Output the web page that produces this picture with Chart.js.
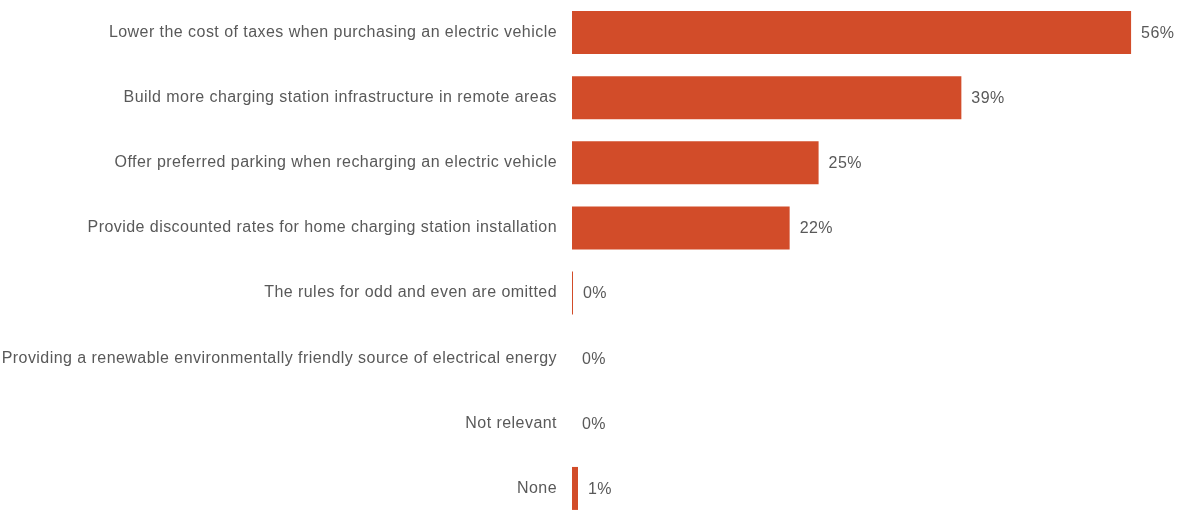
<!DOCTYPE html>
<html>
<head>
<meta charset="utf-8">
<script src="https://cdn.jsdelivr.net/npm/chart.js@4.4.1/dist/chart.umd.min.js"></script>
<style>
  html, body { margin: 0; padding: 0; background: #fff; overflow: hidden; }
</style>
</head>
<body>
<canvas id="chart" width="1183" height="521"></canvas>
<script>
// Kategooriad ja väärtused (loetud pildilt)
const categories = [
  "Lower the cost of taxes when purchasing an electric vehicle",
  "Build more charging station infrastructure in remote areas",
  "Offer preferred parking when recharging an electric vehicle",
  "Provide discounted rates for home charging station installation",
  "The rules for odd and even are omitted",
  "Providing a renewable environmentally friendly source of electrical energy",
  "Not relevant",
  "None"
];
const values = [56, 39, 24.7, 21.8, 0.1, 0, 0, 0.6];

const barColor = "#D24C29";
const textColor = "#595959";
const fontFamily = "'Liberation Sans', Arial, sans-serif";
const letterSpacing = "0.45px";

// Tähevahe kogu joonisele
const spacing = {
  id: "spacing",
  beforeDraw(chart) {
    chart.ctx.letterSpacing = letterSpacing;
  }
};

// Väärtuste sildid tulpade järel
const valueLabels = {
  id: "valueLabels",
  afterDatasetsDraw(chart) {
    const ctx = chart.ctx;
    const meta = chart.getDatasetMeta(0);
    ctx.save();
    ctx.letterSpacing = letterSpacing;
    ctx.font = "16px " + fontFamily;
    ctx.fillStyle = textColor;
    ctx.textAlign = "left";
    ctx.textBaseline = "middle";
    meta.data.forEach((bar, i) => {
      ctx.fillText(Math.round(values[i]) + "%", bar.x + 10, bar.y + 1);
    });
    ctx.restore();
  }
};

let ctx = document.getElementById("chart").getContext("2d");
new Chart(ctx, {
  type: "bar",
  data: {
    labels: categories,
    datasets: [{
      data: values,
      backgroundColor: barColor,
      barPercentage: 0.66,
      categoryPercentage: 1
    }]
  },
  options: {
    indexAxis: "y",
    responsive: false,
    animation: false,
    layout: { padding: 0 },
    plugins: { legend: { display: false }, tooltip: { enabled: false } },
    scales: {
      x: {
        display: false,
        min: 0,
        max: 61.2
      },
      y: {
        grid: { display: false, drawTicks: false },
        border: { display: false },
        ticks: {
          color: textColor,
          font: { size: 16, family: fontFamily },
          padding: 15
        },
        afterFit(scale) {
          scale.width = 572;
          scale.paddingTop = 0;
          scale.paddingBottom = 0;
        }
      }
    }
  },
  plugins: [spacing, valueLabels]
});
</script>
</body>
</html>
